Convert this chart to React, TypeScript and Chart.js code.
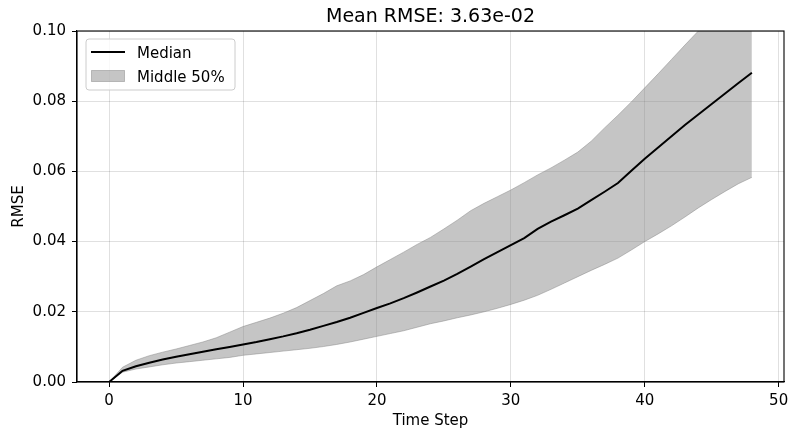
import React, { useEffect, useRef } from "react";
import { Chart, registerables } from "chart.js";

Chart.register(...registerables);

const steps: number[] = Array.from({ length: 49 }, (_, i) => i);

const medianValues: number[] = [
  0, 0.0032, 0.0045, 0.0055, 0.0064, 0.0072, 0.0079, 0.0086, 0.0093, 0.0100,
  0.0107, 0.0114, 0.0122, 0.013, 0.0139, 0.0149, 0.016, 0.0171, 0.0183, 0.0197,
  0.0211, 0.0224, 0.0239, 0.0255, 0.0272, 0.0289, 0.0308, 0.0329, 0.035, 0.037,
  0.039, 0.041, 0.0436, 0.0457, 0.0475, 0.0494, 0.0518, 0.0542, 0.0567, 0.0602,
  0.0636, 0.0668, 0.07, 0.0732, 0.0762, 0.0792, 0.0822, 0.0852, 0.0881,
];

const lowerValues: number[] = [
  0, 0.0028, 0.0037, 0.0043, 0.0049, 0.0054, 0.0058, 0.0062, 0.0066, 0.007,
  0.0076, 0.008, 0.0084, 0.0088, 0.0092, 0.0096, 0.0101, 0.0107, 0.0114, 0.0122,
  0.013, 0.0138, 0.0146, 0.0156, 0.0166, 0.0174, 0.0183, 0.0191, 0.02, 0.021,
  0.0221, 0.0233, 0.0247, 0.0264, 0.0282, 0.03, 0.0318, 0.0335, 0.0353, 0.0376,
  0.04, 0.0422, 0.0445, 0.047, 0.0496, 0.052, 0.0543, 0.0565, 0.0583,
];

const upperValues: number[] = [
  0, 0.0042, 0.0062, 0.0075, 0.0085, 0.0094, 0.0104, 0.0114, 0.0126, 0.0142,
  0.0158, 0.017, 0.0182, 0.0196, 0.0212, 0.0232, 0.0252, 0.0274, 0.0288, 0.0306,
  0.0328, 0.0349, 0.037, 0.0392, 0.0412, 0.0436, 0.0461, 0.0488, 0.0509, 0.0528,
  0.0547, 0.0568, 0.059, 0.061, 0.0632, 0.0655, 0.0686, 0.0724, 0.076, 0.0798,
  0.0838, 0.0878, 0.0919, 0.096, 0.1, 0.104, 0.108, 0.112, 0.116,
];

const xTickValues: number[] = [0, 10, 20, 30, 40, 50];
const yTickValues: number[] = [0, 0.02, 0.04, 0.06, 0.08, 0.1];

const titleText = "Mean RMSE: 3.63e-02";
const xLabel = "Time Step";
const yLabel = "RMSE";
const legendLabels: string[] = ["Median", "Middle 50%"];

const FONT = "'DejaVu Sans', sans-serif";
const BAND_COLOR = "rgba(128,128,128,0.46)";
const GRID_COLOR = "rgba(0,0,0,0.12)";

export default function App() {
  const canvasRef = useRef<HTMLCanvasElement | null>(null);

  useEffect(() => {
    if (!canvasRef.current) return;
    const toPts = (vals: number[]) => steps.map((s, i) => ({ x: s, y: vals[i] }));

    const framePlugin = {
      id: "frameAndDecor",
      afterDraw(chart: any) {
        const { ctx, chartArea } = chart;
        const { left, right, top, bottom } = chartArea;
        ctx.save();
        ctx.strokeStyle = "#000";
        ctx.lineWidth = 1.1;
        ctx.strokeRect(left, top, right - left, bottom - top);
        ctx.fillStyle = "#000";
        ctx.font = `19px ${FONT}`;
        ctx.textAlign = "center";
        ctx.textBaseline = "alphabetic";
        ctx.fillText(titleText, (left + right) / 2, 22);
        const bx = 86, by = 39, bw = 149, bh = 51, r = 3;
        ctx.beginPath();
        ctx.moveTo(bx + r, by);
        ctx.lineTo(bx + bw - r, by);
        ctx.arcTo(bx + bw, by, bx + bw, by + r, r);
        ctx.lineTo(bx + bw, by + bh - r);
        ctx.arcTo(bx + bw, by + bh, bx + bw - r, by + bh, r);
        ctx.lineTo(bx + r, by + bh);
        ctx.arcTo(bx, by + bh, bx, by + bh - r, r);
        ctx.lineTo(bx, by + r);
        ctx.arcTo(bx, by, bx + r, by, r);
        ctx.closePath();
        ctx.fillStyle = "rgba(255,255,255,0.8)";
        ctx.fill();
        ctx.strokeStyle = "#cccccc";
        ctx.lineWidth = 1;
        ctx.stroke();
        ctx.beginPath();
        ctx.moveTo(91, 52);
        ctx.lineTo(125, 52);
        ctx.strokeStyle = "#000";
        ctx.lineWidth = 2;
        ctx.stroke();
        ctx.fillStyle = BAND_COLOR;
        ctx.fillRect(91.5, 70.5, 33, 11);
        ctx.strokeStyle = BAND_COLOR;
        ctx.lineWidth = 1;
        ctx.strokeRect(91.5, 70.5, 33, 11);
        ctx.fillStyle = "#000";
        ctx.font = `15px ${FONT}`;
        ctx.textAlign = "left";
        ctx.textBaseline = "alphabetic";
        ctx.fillText(legendLabels[0], 137, 58);
        ctx.fillText(legendLabels[1], 137, 81.5);
        ctx.restore();
      },
    };

    const chart = new Chart(canvasRef.current, {
      type: "line",
      data: {
        datasets: [
          {
            label: "Median",
            data: toPts(medianValues),
            borderColor: "#000",
            borderWidth: 2,
            pointRadius: 0,
            fill: false,
            tension: 0,
            order: 0,
          },
          {
            label: "lower",
            data: toPts(lowerValues),
            borderColor: BAND_COLOR,
            borderWidth: 1,
            pointRadius: 0,
            fill: false,
            tension: 0,
            order: 2,
          },
          {
            label: "Middle 50%",
            data: toPts(upperValues),
            borderColor: BAND_COLOR,
            backgroundColor: BAND_COLOR,
            borderWidth: 1,
            pointRadius: 0,
            fill: "-1",
            tension: 0,
            order: 1,
          },
        ],
      },
      options: {
        responsive: false,
        animation: false,
        devicePixelRatio: window.devicePixelRatio || 1,
        layout: { padding: { left: 0, right: 14, top: 31, bottom: 0 } },
        plugins: {
          legend: { display: false },
          title: { display: false },
          tooltip: { enabled: false },
        },
        scales: {
          x: {
            type: "linear",
            min: -2.4,
            max: 50.4,
            bounds: "data",
            afterBuildTicks: (scale: any) => {
              scale.ticks = xTickValues.map((v) => ({ value: v }));
            },
            afterFit: (scale: any) => {
              scale.height = 58;
            },
            ticks: {
              color: "#000",
              font: { family: FONT, size: 15 },
              padding: 5,
              maxRotation: 0,
              autoSkip: false,
              callback: (v: any) => String(v),
            },
            grid: {
              color: GRID_COLOR,
              tickColor: "#000",
              tickLength: 5,
              drawTicks: true,
            },
            border: { display: true, color: "#000", width: 1.1 },
            title: {
              display: true,
              text: xLabel,
              color: "#000",
              font: { family: FONT, size: 15 },
              padding: { top: 0, bottom: 10 },
            },
          },
          y: {
            type: "linear",
            min: 0,
            max: 0.1,
            bounds: "data",
            afterBuildTicks: (scale: any) => {
              scale.ticks = yTickValues.map((v) => ({ value: v }));
            },
            afterFit: (scale: any) => {
              scale.width = 77;
            },
            ticks: {
              color: "#000",
              font: { family: FONT, size: 15 },
              padding: 6,
              autoSkip: false,
              callback: (v: any) => Number(v).toFixed(2),
            },
            grid: {
              color: GRID_COLOR,
              tickColor: "#000",
              tickLength: 5,
              drawTicks: true,
            },
            border: { display: true, color: "#000", width: 1.1 },
            title: {
              display: true,
              text: yLabel,
              color: "#000",
              font: { family: FONT, size: 15 },
              padding: { top: 10, bottom: 0 },
            },
          },
        },
      },
      plugins: [framePlugin],
    } as any);

    return () => {
      chart.destroy();
    };
  }, []);

  return (
    <div style={{ position: "absolute", left: 0, top: 0, width: 798, height: 440, background: "#fff" }}>
      <canvas ref={canvasRef} width={798} height={440} style={{ display: "block" }} />
    </div>
  );
}
